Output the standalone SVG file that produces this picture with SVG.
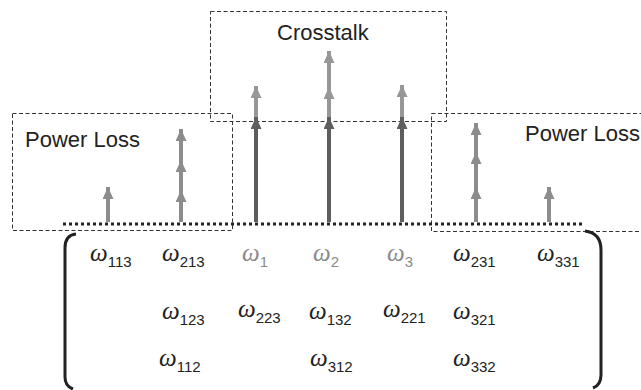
<svg xmlns="http://www.w3.org/2000/svg" width="641" height="390" viewBox="0 0 641 390">
  <style>
    .box { fill: none; stroke: #333; stroke-width: 1; stroke-dasharray: 4 2.5; }
    .lbl { font-family: "Liberation Sans", Arial, sans-serif; font-size: 22px; fill: #222; }
    .om { font-family: "Liberation Serif", "Times New Roman", serif; font-style: italic; font-size: 25px; fill: #222; }
    .om.g { fill: #8a8a8a; }
    .sub { font-family: "Liberation Sans", Arial, sans-serif; font-style: normal; font-size: 15px; }
    .pl { stroke: #8c8c8c; stroke-width: 4; marker-end: url(#hPL); }
    .ctl { stroke: #979797; stroke-width: 4; marker-end: url(#hCL); }
    .ctd { stroke: #5e5e5e; stroke-width: 4; marker-end: url(#hCD); }
    .brk { fill: none; stroke: #222; stroke-width: 3; }
  </style>
  <defs>
    <marker id="hPL" markerUnits="userSpaceOnUse" markerWidth="12" markerHeight="11" viewBox="0 0 12 11" refX="12" refY="5.5" orient="auto">
      <path d="M0,0 L12,5.5 L0,11 Z" fill="#8c8c8c"/>
    </marker>
    <marker id="hCL" markerUnits="userSpaceOnUse" markerWidth="12" markerHeight="11" viewBox="0 0 12 11" refX="12" refY="5.5" orient="auto">
      <path d="M0,0 L12,5.5 L0,11 Z" fill="#979797"/>
    </marker>
    <marker id="hCD" markerUnits="userSpaceOnUse" markerWidth="12" markerHeight="11" viewBox="0 0 12 11" refX="12" refY="5.5" orient="auto">
      <path d="M0,0 L12,5.5 L0,11 Z" fill="#5e5e5e"/>
    </marker>
  </defs>

  <!-- dashed region boxes -->
  <g id="region-loss-left">
    <rect class="box" x="12.5" y="113.5" width="220" height="117"/>
    <text class="lbl" x="25" y="147">Power Loss</text>
  </g>
  <g id="region-crosstalk">
    <rect class="box" x="210.5" y="11.5" width="236" height="110"/>
    <text class="lbl" x="277" y="40">Crosstalk</text>
  </g>
  <g id="region-loss-right">
    <rect class="box" x="431.5" y="113.5" width="230" height="118"/>
    <text class="lbl" x="525" y="141">Power Loss</text>
  </g>

  <!-- spectral lines above the frequency axis -->
  <g id="connectors">
    <line x1="63" y1="224" x2="583" y2="224" stroke="#222" stroke-width="3" stroke-dasharray="3 3"/>
    <line class="pl" x1="108" y1="222" x2="108" y2="187"/>
    <line class="pl" x1="181" y1="222" x2="181" y2="190"/>
    <line class="pl" x1="181" y1="193" x2="181" y2="160"/>
    <line class="pl" x1="181" y1="163" x2="181" y2="129"/>
    <line class="ctl" x1="256" y1="120" x2="256" y2="86"/>
    <line class="ctd" x1="256" y1="222" x2="256" y2="117"/>
    <line class="ctl" x1="329" y1="120" x2="329" y2="87"/>
    <line class="ctl" x1="329" y1="90" x2="329" y2="51"/>
    <line class="ctd" x1="329" y1="222" x2="329" y2="117"/>
    <line class="ctl" x1="402" y1="120" x2="402" y2="85"/>
    <line class="ctd" x1="402" y1="222" x2="402" y2="117"/>
    <line class="pl" x1="476" y1="222" x2="476" y2="187"/>
    <line class="pl" x1="476" y1="190" x2="476" y2="152"/>
    <line class="pl" x1="476" y1="155" x2="476" y2="123"/>
    <line class="pl" x1="549" y1="222" x2="549" y2="187"/>
  </g>

  <!-- bracket around the frequency set -->
  <g id="bracket">
    <path class="brk" d="M76,234 Q65,235 65,248 L65,377 Q65,386 73,389"/>
    <path class="brk" d="M585,231 Q601,233 601,250 L601,375 Q601,385 593,388"/>
  </g>

  <!-- frequency labels -->
  <g id="w113"><text class="om" x="90" y="261">ω<tspan class="sub" dy="6">113</tspan></text></g>
  <g id="w213"><text class="om" x="162" y="261">ω<tspan class="sub" dy="6">213</tspan></text></g>
  <g id="w1"><text class="om g" x="242" y="261">ω<tspan class="sub" dy="6">1</tspan></text></g>
  <g id="w2"><text class="om g" x="313" y="261">ω<tspan class="sub" dy="6">2</tspan></text></g>
  <g id="w3"><text class="om g" x="387" y="261">ω<tspan class="sub" dy="6">3</tspan></text></g>
  <g id="w231"><text class="om" x="453" y="261">ω<tspan class="sub" dy="6">231</tspan></text></g>
  <g id="w331"><text class="om" x="537" y="261">ω<tspan class="sub" dy="6">331</tspan></text></g>

  <g id="w123"><text class="om" x="162" y="319">ω<tspan class="sub" dy="6">123</tspan></text></g>
  <g id="w223"><text class="om" x="238" y="317">ω<tspan class="sub" dy="6">223</tspan></text></g>
  <g id="w132"><text class="om" x="309" y="319">ω<tspan class="sub" dy="6">132</tspan></text></g>
  <g id="w221"><text class="om" x="383" y="317">ω<tspan class="sub" dy="6">221</tspan></text></g>
  <g id="w321"><text class="om" x="453" y="319">ω<tspan class="sub" dy="6">321</tspan></text></g>

  <g id="w112"><text class="om" x="159" y="366">ω<tspan class="sub" dy="6">112</tspan></text></g>
  <g id="w312"><text class="om" x="310" y="366">ω<tspan class="sub" dy="6">312</tspan></text></g>
  <g id="w332"><text class="om" x="453" y="366">ω<tspan class="sub" dy="6">332</tspan></text></g>
</svg>
